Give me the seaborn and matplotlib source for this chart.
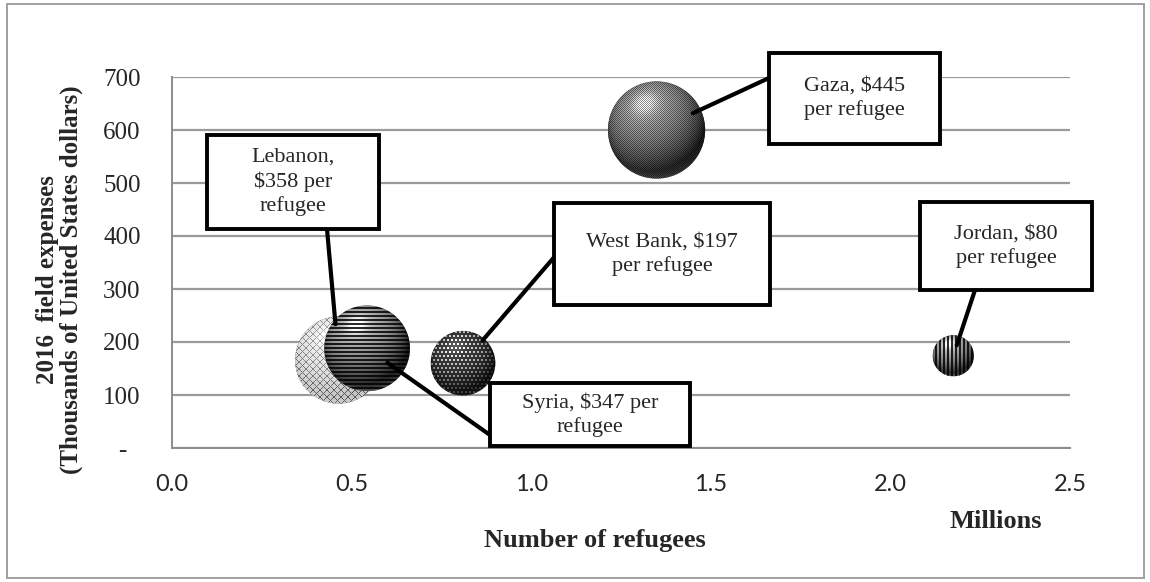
import textwrap

import numpy as np
import pandas as pd
import matplotlib
matplotlib.use("Agg")
import matplotlib.pyplot as plt
import seaborn as sns
from matplotlib.patches import Ellipse, Rectangle, ConnectionPatch

# ---------------------------------------------------------------- data
regions = ["Lebanon", "Syria", "West Bank", "Gaza", "Jordan"]
refugees_millions = [0.464, 0.543, 0.810, 1.349, 2.175]
field_expenses = [166, 188, 160, 600, 174]          # thousands of USD
cost_per_refugee = [358, 347, 197, 445, 80]          # USD per refugee

x_ticks = [0.0, 0.5, 1.0, 1.5, 2.0, 2.5]
x_tick_labels = ["0.0", "0.5", "1.0", "1.5", "2.0", "2.5"]
y_ticks = [0, 100, 200, 300, 400, 500, 600, 700]
y_tick_labels = ["-", "100", "200", "300", "400", "500", "600", "700"]

# ---------------------------------------------------------------- style
W, H = 1150, 582
DPI = 100
sns.set_style("white")
plt.rcParams["font.family"] = ["Liberation Serif", "DejaVu Sans"]

# bubble textures, label wrapping and callout layout (figure pixels)
textures = ["diamond", "stripes_h", "coarse_dots", "fine_dots", "stripes_v"]
wrap_widths = [9, 15, 15, 11, 11]
boxes_px = [(207, 135, 379, 229),     # left, top, right, bottom
            (490, 383, 690, 446),
            (554, 203, 770, 305),
            (769, 53, 940, 144),
            (920, 202, 1092, 290)]
anchors_px = [(327, 229), (490, 435), (556, 255), (769, 78), (975, 290)]
leader_gap_px = [36, 25, 30, 40, 11]

fig = plt.figure(figsize=(W / DPI, H / DPI), dpi=DPI)
ax = fig.add_axes([172 / W, (H - 448) / H, (1070 - 172) / W, (448 - 77) / H])

df = pd.DataFrame({
    "region": regions,
    "refugees": refugees_millions,
    "expenses": field_expenses,
    "cost": cost_per_refugee,
})

S_MAX = 11.0 * max(cost_per_refugee)
sns.scatterplot(data=df, x="refugees", y="expenses", size="cost",
                sizes=(0, S_MAX), size_norm=(0, max(cost_per_refugee)),
                color="#666666", edgecolor="none", linewidth=0,
                legend=False, ax=ax, zorder=2)

ax.set_xlim(0, 2.5)
ax.set_ylim(0, 700)


def sphere_texture(kind, n):
    i, j = np.mgrid[0:n, 0:n]
    u = (j + 0.5) / n * 2 - 1
    v = (i + 0.5) / n * 2 - 1
    z = np.sqrt(np.clip(1 - u ** 2 - v ** 2, 0, 1))
    light = np.array([-0.25, -0.55, 0.80])
    light /= np.linalg.norm(light)
    diff = np.clip(u * light[0] + v * light[1] + z * light[2], 0, 1)
    spec = diff ** 30
    rim = np.clip(v, 0, 1) ** 2 * (1 - z) * 0.25
    shade = np.clip(0.10 + 0.60 * diff + 0.35 * spec + rim, 0, 1)

    if kind == "stripes_h":
        p = (i % 4) < 2
        img = shade * np.where(p, 1.05, 0.18)
    elif kind == "stripes_v":
        p = (j % 4) < 2
        img = shade * np.where(p, 1.05, 0.18)
    elif kind == "fine_dots":
        p = ((i % 2) == 0) ^ ((j % 2) == 0)
        img = shade * np.where(p, 0.55, 1.05)
    elif kind == "coarse_dots":
        jj = j + 2 * ((i // 4) % 2)
        p = ((i % 4) < 2) & ((jj % 4) < 2)
        img = shade * np.where(p, 1.3, 0.35)
    else:  # light diamond lattice
        p = (((i + j) % 7) == 0) | (((i - j) % 7) == 0)
        light_bg = 0.72 + 0.3 * shade
        img = np.where(p, 0.25 + 0.5 * shade, light_bg)
    return np.clip(img, 0, 1)


coll = ax.collections[0]
sizes_pt2 = np.asarray(coll.get_sizes())
offsets = np.asarray(coll.get_offsets())
p0 = ax.transData.transform((0, 0))
px_per_x = ax.transData.transform((1, 0))[0] - p0[0]
px_per_y = ax.transData.transform((0, 1))[1] - p0[1]

for k, ((x, y), s) in enumerate(zip(offsets, sizes_pt2)):
    r_px = np.sqrt(s) / 2 * DPI / 72
    n = int(np.ceil(2 * r_px))
    rx, ry = r_px / px_per_x, r_px / px_per_y
    img = sphere_texture(textures[k], n)
    clip = Ellipse((x, y), 2 * rx, 2 * ry, transform=ax.transData)
    im = ax.imshow(img, cmap="gray", vmin=0, vmax=1, origin="upper",
                   extent=(x - rx, x + rx, y - ry, y + ry),
                   interpolation="nearest", aspect="auto", zorder=3 + k * 0.01)
    im.set_clip_path(clip)

ax.set_xlim(0, 2.5)
ax.set_ylim(0, 700)

# ---------------------------------------------------------------- axes
ax.set_axisbelow(True)
ax.yaxis.grid(True, color="#9a9a9a", linewidth=1.6)
ax.xaxis.grid(False)
for side in ["top", "right"]:
    ax.spines[side].set_visible(False)
for side in ["left", "bottom"]:
    ax.spines[side].set_color("#8c8c8c")
    ax.spines[side].set_linewidth(1.4)

ax.set_xticks(x_ticks)
ax.set_xticklabels(x_tick_labels)
ax.set_yticks(y_ticks)
ax.set_yticklabels(y_tick_labels)
ax.tick_params(axis="x", length=0, pad=19)
ax.tick_params(axis="y", length=0, pad=36)
for lab in ax.get_xticklabels():
    lab.set_fontfamily(["Lato", "DejaVu Sans"])
    lab.set_fontsize(17)
for lab in ax.get_yticklabels():
    lab.set_fontfamily(["Liberation Serif", "DejaVu Sans"])
    lab.set_fontsize(18)
    lab.set_horizontalalignment("center")

ax.set_ylabel("2016  field expenses\n(Thousands of United States dollars)",
              fontsize=18, fontweight="bold", linespacing=1.05)
ax.yaxis.label.set_verticalalignment("center")
ax.yaxis.set_label_coords((59.5 - 172) / 898, (448 - 280) / 371)

ax.set_xlabel("Number of refugees", fontsize=19, fontweight="bold")
ax.xaxis.label.set_verticalalignment("center")
ax.xaxis.set_label_coords((595 - 172) / 898, (448 - 540) / 371)

fig.text(996 / W, 1 - 521 / H, "Millions", fontsize=19, fontweight="bold",
         ha="center", va="center")

# ---------------------------------------------------------------- callouts
for k in range(len(regions)):
    label = f"{regions[k]}, ${cost_per_refugee[k]} per refugee"
    label = textwrap.fill(label, wrap_widths[k])
    l, t, r, b = boxes_px[k]
    ax_px, ay_px = anchors_px[k]
    con = ConnectionPatch(xyA=(ax_px / W, 1 - ay_px / H), coordsA=fig.transFigure,
                          xyB=(refugees_millions[k], field_expenses[k]),
                          coordsB=ax.transData, arrowstyle="-",
                          color="black", linewidth=3.0,
                          shrinkA=0, shrinkB=leader_gap_px[k] * 72 / DPI,
                          zorder=4)
    fig.add_artist(con)
    fig.add_artist(Rectangle((l / W, 1 - b / H), (r - l) / W, (b - t) / H,
                             transform=fig.transFigure, facecolor="white",
                             edgecolor="black", linewidth=2.8, zorder=5))
    fig.text((l + r) / 2 / W, 1 - (t + b) / 2 / H, label, fontsize=16,
             ha="center", va="center", multialignment="center",
             linespacing=1.3, parse_math=False, zorder=6)

# outer frame
fig.add_artist(Rectangle((7 / W, 1 - 578 / H), (1144 - 7) / W, (578 - 4) / H,
                         transform=fig.transFigure, facecolor="none",
                         edgecolor="#a0a0a0", linewidth=1.4, zorder=0))

fig.savefig("out.png", dpi=DPI)
